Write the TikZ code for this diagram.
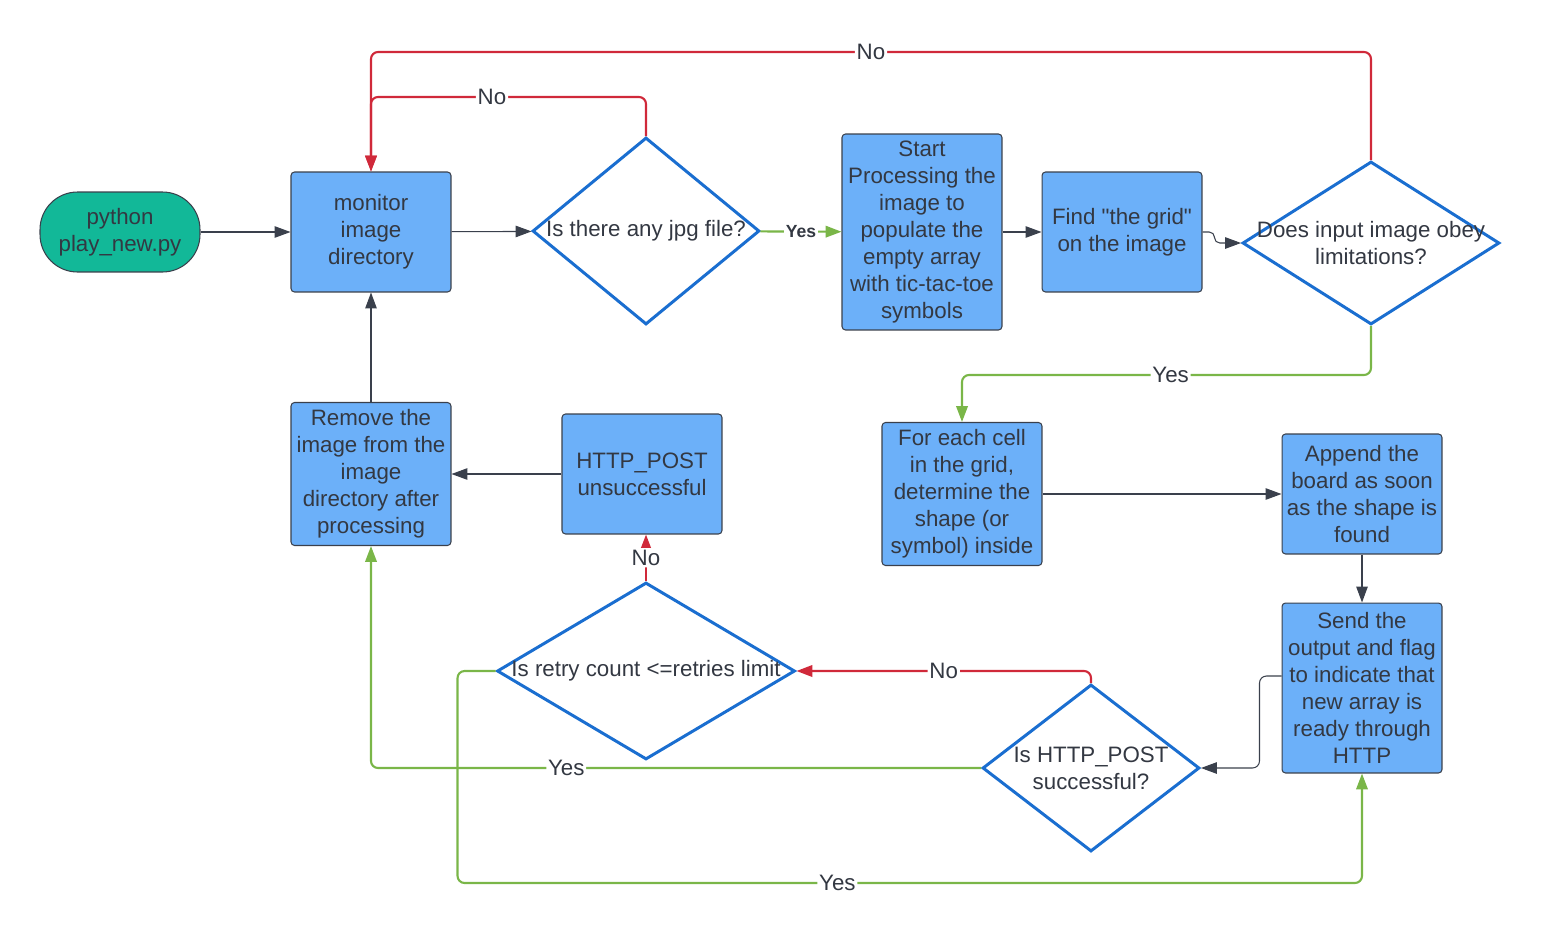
\documentclass[tikz,border=0pt]{standalone}
\usepackage{fontspec}
\setmainfont{Liberation Sans}[Ligatures=TeXOff]
\usepackage{xcolor}
\usepackage{tikz}
\usetikzlibrary{shapes,arrows,positioning,calc,arrows.meta}

\definecolor{boxblue}{RGB}{108,176,249}
\definecolor{edgeblue}{RGB}{26,110,208}
\definecolor{termteal}{RGB}{18,184,152}
\definecolor{lineg}{RGB}{58,64,76}
\definecolor{txtg}{RGB}{51,56,66}
\definecolor{nored}{RGB}{208,41,58}
\definecolor{yesgreen}{RGB}{122,182,72}

\tikzset{
  procbox/.style={draw=lineg, fill=boxblue, rounded corners=2pt, line width=0.6pt, align=center, minimum width=3.2cm, minimum height=2.4cm, inner sep=2pt},
  termbox/.style={draw=lineg, fill=termteal, rounded corners=0.75cm, line width=0.6pt, align=center, minimum width=3.2cm, minimum height=1.6cm},
  decision/.style={diamond, draw=edgeblue, fill=white, line width=1.7pt, inner sep=0pt},
  qtext/.style={align=center, inner sep=0pt, text=txtg},
  arr/.style={draw=lineg, line width=0.6pt, -{Triangle[length=9pt,width=6.5pt]}, rounded corners=4pt},
  noarr/.style={arr, draw=nored, line width=1.2pt},
  yesarr/.style={arr, draw=yesgreen, line width=1.2pt},
  lbl/.style={fill=white, inner sep=1pt, text=txtg},
}

\begin{document}
\begin{tikzpicture}[x=0.02cm, y=-0.02cm, font=\fontsize{12.7}{15.4}\selectfont, text=txtg]
    \useasboundingbox (0,0) rectangle (1542,937);

    % top row
    \node [termbox] (start) at (120,232) {python\\play\_new.py};
    \node [procbox] (monitor) at (371,232) {monitor\\image\\directory};
    \node [decision, minimum width=4.54cm, minimum height=3.74cm,
           label={[qtext]center:{Is there any jpg file?}}] (jpg) at (646,231) {};
    \node [procbox, minimum height=3.92cm] (process) at (922,232)
        {Start\\Processing the\\image to\\populate the\\empty array\\with tic-tac-toe\\symbols};
    \node [procbox] (grid) at (1122,232) {Find "the grid"\\on the image};
    \node [decision, minimum width=5.14cm, minimum height=3.26cm,
           label={[qtext]center:{Does input image obey\\limitations?}}] (obey) at (1371,243) {};

    % middle row
    \node [procbox, minimum height=2.86cm] (remove) at (371,474)
        {Remove the\\image from the\\image\\directory after\\processing};
    \node [procbox] (unsucc) at (642,474) {HTTP\_POST\\unsuccessful};
    \node [procbox, minimum height=2.86cm] (foreach) at (962,494)
        {For each cell\\in the grid,\\determine the\\shape (or\\symbol) inside};
    \node [procbox] (append) at (1362,494) {Append the\\board as soon\\as the shape is\\found};

    % bottom row
    \node [decision, minimum width=5.96cm, minimum height=3.54cm,
           label={[qtext]center:{Is retry count <=retries limit}}] (retry) at (646,671) {};
    \node [decision, minimum width=4.34cm, minimum height=3.34cm,
           label={[qtext]center:{Is HTTP\_POST\\successful?}}] (http) at (1091,768) {};
    \node [procbox, minimum height=3.4cm] (send) at (1362,688)
        {Send the\\output and flag\\to indicate that\\new array is\\ready through\\HTTP};

    % flow
    \draw [arr] (start) -- (monitor);
    \draw [arr] (monitor) -- (jpg);
    \draw [yesarr] (jpg) -- node [lbl, font=\fontsize{10}{12}\selectfont\bfseries] {Yes} (process);
    \draw [arr] (process) -- (grid);
    \draw [arr, rounded corners=3pt] (grid.east) -- ++(12,0) |- (obey.west);
    \draw [noarr] (obey.north) -- (obey.north |- 0,52) -- node [lbl, pos=0.5] {No} (monitor.north |- 0,52) -- (monitor.north);
    \draw [noarr] (jpg.north) -- (jpg.north |- 0,97) -- node [lbl, pos=0.56] {No} (monitor.north |- 0,97) -- (monitor.north);
    \draw [yesarr] (obey.south) -- (obey.south |- 0,375) -- node [lbl, pos=0.49] {Yes} (foreach.north |- 0,375) -- (foreach.north);
    \draw [arr] (foreach) -- (append);
    \draw [arr] (append) -- (send);
    \draw [arr] ($(send.west)+(0,-12)$) -- ++(-22,0) |- (http.east);
    \draw [noarr] (http.north) |- node [lbl, pos=0.75] {No} (retry.east);
    \draw [yesarr] (http.west) -| node [lbl, pos=0.34] {Yes} (remove.south);
    \draw [noarr] (retry.north) -- node [lbl] {No} (retry.north |- unsucc.south);
    \draw [yesarr] (retry.west) -- ++(-38,0) -- ++(0,212) -| node [lbl, pos=0.21] {Yes} (send.south);
    \draw [arr] (unsucc) -- (remove);
    \draw [arr] (remove) -- (monitor);
\end{tikzpicture}
\end{document}
